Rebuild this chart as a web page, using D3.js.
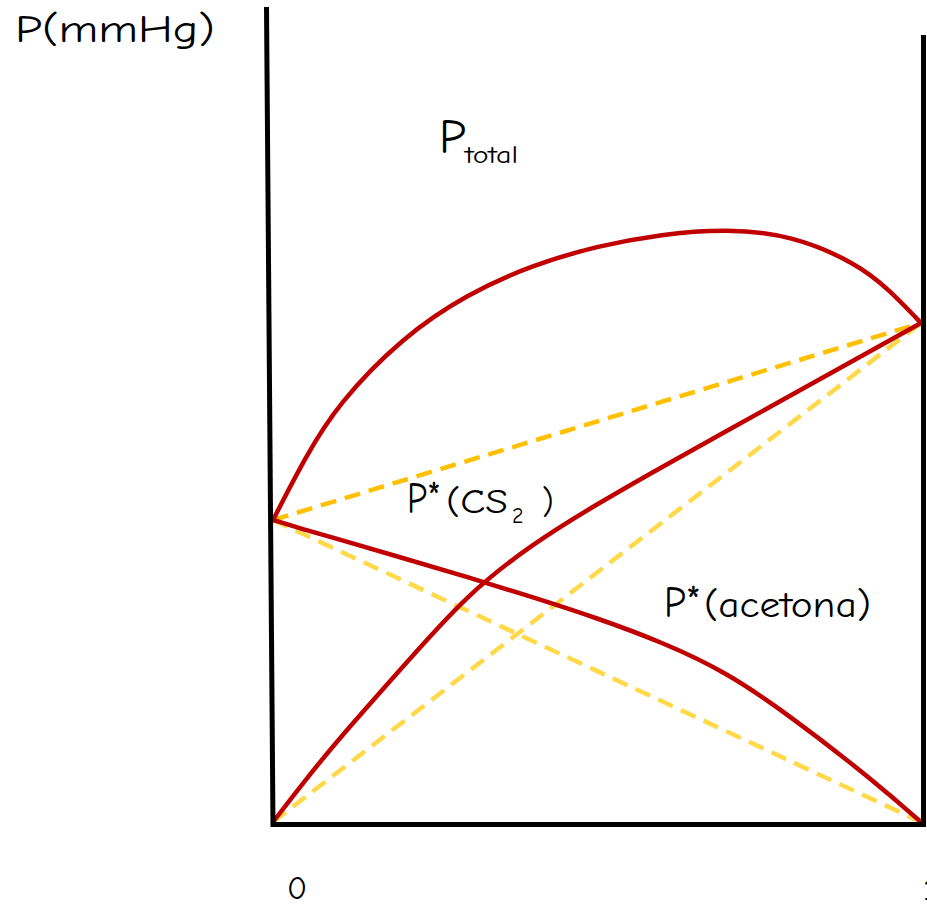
<!DOCTYPE html>
<html>
<head>
<meta charset="utf-8">
<script src="https://cdn.jsdelivr.net/npm/d3@7"></script>
<style>
  html, body { margin: 0; padding: 0; background: #fff; overflow: hidden; }
  svg { display: block; }
  text { font-family: "Comic Sans MS", "Comic Neue", Lato, "DejaVu Sans", sans-serif; fill: #000; }
</style>
</head>
<body>
<svg id="chart" width="927" height="908"></svg>
<script>
// Mole fraction stations (left = 0, right = 1)
const xFrac = [0, 0.05, 0.1, 0.2, 0.3, 0.4, 0.5, 0.6, 0.7, 0.8, 0.9, 0.95, 1];

// Pressures (arbitrary mmHg-like units), read at each station
const pTotal    = [302, 365, 418, 485, 528, 557, 576, 588, 593, 587, 559, 533, 499];
const pRising   = [0, 42, 82, 155, 228, 278, 318, 355, 391, 427, 463, 481, 499];
const pFalling  = [302, 292, 283, 264, 245, 225, 204, 180, 150, 105, 55, 28, 0];

// Ideal (Raoult) straight lines: endpoints at x = 0 and x = 1
const idealX     = [0, 1];
const idealTotal = [302, 499];
const idealRise  = [0, 499];
const idealFall  = [302, 0];

// Axis end labels
const xTickLabels = ["0", "1"];

const svg = d3.select("#chart");

const x = d3.scaleLinear().domain([0, 1]).range([273, 921]);
const y = d3.scaleLinear().domain([0, 800]).range([822, 22]);

const RED = "#C00000", GOLD = "#FFC000", PALE = "#FFD94A";

const line = d3.line()
  .x(d => x(d[0]))
  .y(d => y(d[1]))
  .curve(d3.curveBasis);

const straight = d3.line().x(d => x(d[0])).y(d => y(d[1]));

const zipXY = (xs, ys) => xs.map((v, i) => [v, ys[i]]);

// Ideal dashed lines
[[idealRise, PALE], [idealFall, PALE], [idealTotal, GOLD]].forEach(([vals, col]) => {
  svg.append("path")
    .attr("d", straight(zipXY(idealX, vals)))
    .attr("fill", "none")
    .attr("stroke", col)
    .attr("stroke-width", 4.5)
    .attr("stroke-dasharray", "16 9");
});

// Real curves
[pTotal, pRising, pFalling].forEach(vals => {
  svg.append("path")
    .attr("d", line(zipXY(xFrac, vals)))
    .attr("fill", "none")
    .attr("stroke", RED)
    .attr("stroke-width", 4.5)
    .attr("stroke-linejoin", "round");
});

// Frame: slightly leaning left axis, bottom axis and right axis
const axisG = svg.append("g").attr("stroke", "#000").attr("stroke-width", 5).attr("fill", "none");
axisG.append("line")
  .attr("x1", x(0) - 6.5).attr("y1", 7)
  .attr("x2", x(0)).attr("y2", y(0) + 5);
axisG.append("line")
  .attr("x1", x(0) - 2).attr("y1", y(0) + 2.5)
  .attr("x2", x(1) + 5).attr("y2", y(0) + 2.5);
axisG.append("line")
  .attr("x1", x(1) + 2.5).attr("y1", 35)
  .attr("x2", x(1) + 2.5).attr("y2", y(0) + 5);

// Tick labels at the ends of the x axis
svg.append("text").text(xTickLabels[0])
  .attr("x", x(0) + 24).attr("y", 899)
  .attr("text-anchor", "middle").attr("font-size", 33);
svg.append("text").text(xTickLabels[1])
  .attr("x", x(1) + 2).attr("y", 900)
  .attr("font-size", 33);

// Y axis title
svg.append("text").text("P(mmHg)")
  .attr("x", 15).attr("y", 42)
  .attr("font-size", 39)
  .attr("textLength", 200).attr("lengthAdjust", "spacingAndGlyphs");

// P_total label
svg.append("text").text("P")
  .attr("x", 439).attr("y", 153).attr("font-size", 48);
svg.append("text").text("total")
  .attr("x", 465).attr("y", 163).attr("font-size", 24)
  .attr("textLength", 53).attr("lengthAdjust", "spacingAndGlyphs");

// P*(CS2) label
svg.append("text").text("P*")
  .attr("x", 407).attr("y", 513).attr("font-size", 44)
  .attr("textLength", 34).attr("lengthAdjust", "spacingAndGlyphs");
svg.append("text").text("(CS")
  .attr("x", 446).attr("y", 513).attr("font-size", 34)
  .attr("textLength", 62).attr("lengthAdjust", "spacingAndGlyphs");
svg.append("text").text("2")
  .attr("x", 512).attr("y", 523).attr("font-size", 22);
svg.append("text").text(")")
  .attr("x", 542).attr("y", 513).attr("font-size", 34);

// P*(acetona) label
svg.append("text").text("P*")
  .attr("x", 664).attr("y", 617).attr("font-size", 44)
  .attr("textLength", 37).attr("lengthAdjust", "spacingAndGlyphs");
svg.append("text").text("(acetona)")
  .attr("x", 704).attr("y", 617).attr("font-size", 36)
  .attr("textLength", 167).attr("lengthAdjust", "spacingAndGlyphs");
</script>
</body>
</html>
